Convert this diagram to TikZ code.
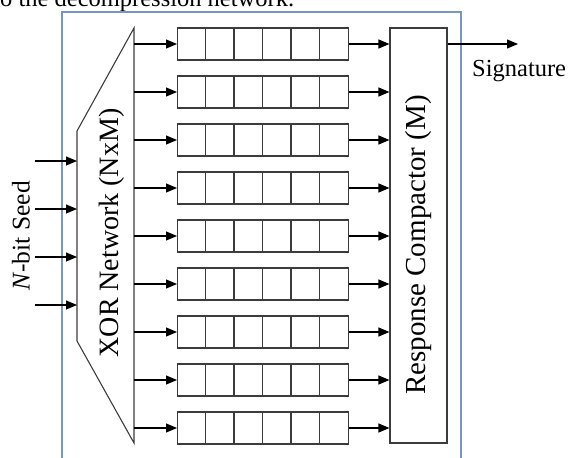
\documentclass[tikz,border=0pt]{standalone}
\usepackage{fontspec}
\setmainfont{Liberation Serif}
\usetikzlibrary{arrows.meta}
\definecolor{framecol}{RGB}{118,150,198}
\definecolor{linecol}{RGB}{60,60,60}
\begin{document}
\begin{tikzpicture}[x=1pt,y=-1pt,
  line/.style={draw=linecol, line width=1.1pt},
  arr/.style={draw=black, line width=1.1pt, -{Triangle[length=11pt,width=9pt]}},
  regbox/.style={line, rectangle, minimum width=171pt, minimum height=32pt, inner sep=0pt, anchor=west},
  compbox/.style={line, rectangle, minimum width=57pt, minimum height=415pt, inner sep=0pt},
  frame/.style={draw=framecol, line width=1.8pt},
  lbl/.style={inner sep=0pt, text=black}]
\useasboundingbox (0,0) rectangle (569,457);
\begin{scope}
\clip (0,0) rectangle (569,457);
\node[lbl, anchor=base west, font=\fontsize{24.5}{25}\selectfont] (toptext) at (0,7) {o the decompression network.};
\draw[frame] (62,12) rectangle (461,480);
\end{scope}
% XOR network
\draw[line] (134,28) -- (77,131) -- (77,341) -- (134,443) -- cycle;
\coordinate (xorR) at (134,0);
\coordinate (xorL) at (77,0);
\node[lbl, rotate=90, font=\fontsize{28}{28}\selectfont] (xortext) at (112,233) {XOR Network (NxM)};
% compactor
\node[compbox] (comp) at (418.5,235.5) {};
\node[lbl, rotate=90, font=\fontsize{29}{29}\selectfont] (comptext) at (419,245) {Response Compactor (M)};
% registers
\foreach \k in {0,...,8} {
  \node[regbox] (reg\k) at (177,44+48*\k) {};
  \foreach \j in {1,...,5}
    \draw[line] ([xshift=\j*28.5pt]reg\k.north west) -- ([xshift=\j*28.5pt]reg\k.south west);
  \draw[arr] (xorR |- reg\k.west) -- (reg\k.west);
  \draw[arr] (reg\k.east) -- (comp.west |- reg\k.east);
}
% seed inputs
\foreach \i/\y in {1/161,2/209,3/257,4/305} {
  \coordinate (in\i) at (35,\y);
  \draw[arr] (in\i) -- (xorL |- in\i);
}
\node[lbl, rotate=90, font=\fontsize{25.5}{26}\selectfont] (seed) at (21,236) {\textit{N}-bit Seed};
% signature
\coordinate (sig) at (518,44);
\draw[arr] (comp.east |- reg0.east) -- (sig);
\node[lbl, anchor=base west, font=\fontsize{24.5}{25}\selectfont] (sigtext) at (472,77) {Signature};
\end{tikzpicture}
\end{document}
